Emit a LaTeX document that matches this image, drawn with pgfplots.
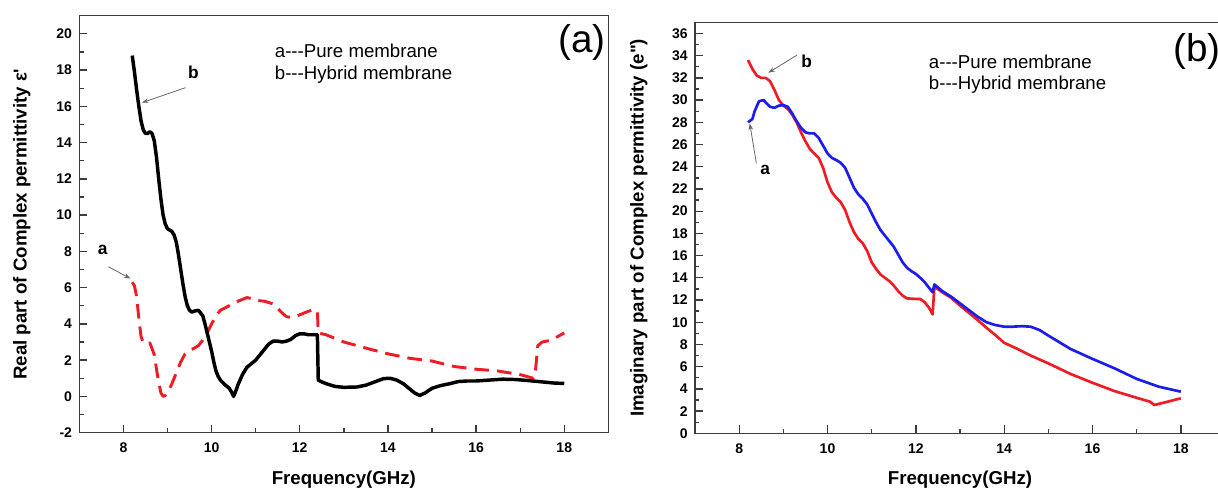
\documentclass[border=0pt]{standalone}
\usepackage{pgfplots}
\pgfplotsset{compat=1.18}
\usepackage{fontspec}
\setmainfont{Liberation Sans}
\newfontfamily\nomap{Liberation Sans}
\usetikzlibrary{arrows.meta}
\definecolor{cred}{RGB}{238,28,36}
\definecolor{cblue}{RGB}{28,28,235}
\definecolor{frame}{RGB}{60,60,60}

\pgfplotsset{
  myax/.style={
    scale only axis, anchor=south west,
    xmin=7, xmax=19, xtick={8,10,...,18}, minor x tick num=1,
    tick align=inside, xtick pos=lower, ytick pos=left,
    major tick length=6pt, minor tick length=3.2pt,
    axis line style={frame, line width=1.1pt},
    tick style={frame, line width=1pt},
    ticklabel style={font=\bfseries\fontsize{10.5}{12}\selectfont},
    /pgf/number format/assume math mode=true,
    xticklabel shift=4pt, yticklabel shift=2pt,
    label style={font=\bfseries\fontsize{14}{16}\selectfont},
    xlabel style={at={(axis description cs:0.5,-0.113)}, anchor=center},
    clip=false,
  },
}
\tikzset{
  ann/.style={font=\bfseries\fontsize{13}{15}\selectfont},
  leg/.style={font=\fontsize{14}{16}\selectfont, anchor=west, inner sep=0pt},
  pan/.style={font=\fontsize{29}{32}\selectfont, anchor=west, inner sep=0pt},
  arr/.style={-{Stealth[length=5pt,width=3.5pt]}, black!60, line width=0.6pt},
}

\begin{document}
\begin{tikzpicture}
\useasboundingbox (0,0) rectangle (913.5pt,369pt);
% ---------------- panel (a)
\begin{axis}[myax, at={(59.5pt,44.5pt)}, width=396.75pt, height=312.75pt,
  ymin=-2, ymax=21, ytick={-2,0,...,20}, minor y tick num=1,
  ylabel={Real part of Complex permittivity {\nomap ε'}},
  ylabel style={at={(axis description cs:-0.109,0.5)}, anchor=center},
  xlabel={Frequency(GHz)}]
\addplot[cred, line width=2.2pt, dash pattern=on 11pt off 6pt, line join=round] coordinates {
(8.2,6.3)(8.25,6.1)(8.3,5.5)(8.35,4.3)(8.4,3.3)(8.45,2.95)(8.5,2.9)(8.6,2.95)(8.7,2.3)(8.75,1.5)(8.8,0.8)(8.85,0.2)(8.9,0.0)(8.95,0.05)(9.0,0.2)(9.1,0.7)(9.2,1.3)(9.3,1.9)(9.4,2.35)(9.5,2.55)(9.6,2.65)(9.7,2.8)(9.8,3.1)(9.9,3.5)(10.0,4.0)(10.1,4.45)(10.2,4.75)(10.4,5.0)(10.6,5.25)(10.8,5.45)(10.9,5.4)(11.0,5.3)(11.2,5.25)(11.4,5.1)(11.5,4.85)(11.6,4.6)(11.7,4.4)(11.8,4.35)(11.9,4.4)(12.0,4.5)(12.2,4.7)(12.35,4.8)(12.4,4.7)(12.42,3.5)(12.6,3.4)(12.8,3.2)(13.0,3.0)(13.3,2.8)(13.6,2.6)(14.0,2.35)(14.5,2.1)(15.0,1.95)(15.5,1.65)(16.0,1.5)(16.5,1.4)(17.0,1.2)(17.3,1.0)(17.35,1.5)(17.4,2.8)(17.5,3.0)(17.7,3.1)(18.0,3.5)
};
\addplot[black, line width=2.6pt, line join=round] coordinates {
(8.2,18.8)(8.25,17.9)(8.3,16.9)(8.35,16.0)(8.4,15.2)(8.45,14.7)(8.5,14.5)(8.55,14.5)(8.6,14.6)(8.65,14.5)(8.7,14.1)(8.75,13.2)(8.8,12.0)(8.85,10.9)(8.9,10.0)(8.95,9.5)(9.0,9.25)(9.1,9.1)(9.15,8.9)(9.2,8.5)(9.25,7.8)(9.3,7.0)(9.35,6.2)(9.4,5.5)(9.45,5.0)(9.5,4.75)(9.55,4.65)(9.6,4.7)(9.7,4.75)(9.75,4.6)(9.8,4.45)(9.85,4.0)(9.9,3.5)(9.95,3.0)(10.0,2.5)(10.05,1.9)(10.1,1.4)(10.15,1.1)(10.2,0.9)(10.3,0.65)(10.4,0.45)(10.45,0.25)(10.5,0.0)(10.55,0.3)(10.6,0.65)(10.7,1.2)(10.8,1.6)(10.9,1.8)(11.0,2.0)(11.1,2.3)(11.2,2.6)(11.3,2.9)(11.4,3.05)(11.5,3.05)(11.6,3.0)(11.7,3.05)(11.8,3.15)(11.9,3.35)(12.0,3.45)(12.1,3.45)(12.2,3.4)(12.3,3.4)(12.4,3.4)(12.42,0.9)(12.5,0.8)(12.6,0.7)(12.8,0.55)(13.0,0.5)(13.3,0.52)(13.5,0.62)(13.7,0.8)(13.9,0.98)(14.05,1.0)(14.2,0.9)(14.35,0.7)(14.5,0.4)(14.6,0.2)(14.72,0.05)(14.85,0.2)(15.0,0.45)(15.2,0.6)(15.4,0.7)(15.6,0.82)(15.8,0.85)(16.0,0.85)(16.3,0.9)(16.6,0.95)(16.9,0.93)(17.2,0.87)(17.5,0.8)(17.8,0.73)(18.0,0.72)
};
\node[leg] at (axis cs:11.43,19.08) {a{-}{-}{-}Pure membrane};
\node[leg] at (axis cs:11.43,17.76) {b{-}{-}{-}Hybrid membrane};
\node[pan] at (axis cs:17.86,19.53) {(a)};
\node[ann] at (axis cs:9.59,17.89) {b};
\draw[arr] (axis cs:9.41,17.03) -- (axis cs:8.42,16.2);
\node[ann] at (axis cs:7.53,8.07) {a};
\draw[arr] (axis cs:7.66,7.15) -- (axis cs:8.16,6.5);
\end{axis}
% ---------------- panel (b)
\begin{axis}[myax, at={(521.25pt,44.0pt)}, width=397.5pt, height=308.25pt,
  ymin=0, ymax=37, ytick={0,2,...,36}, minor y tick num=1,
  ylabel={Imaginary part of Complex permittivity {\nomap\bfseries (e")}},
  ylabel style={at={(axis description cs:-0.106,0.5)}, anchor=center},
  xlabel={Frequency(GHz)}]
\addplot[cred, line width=2pt, line join=round] coordinates {
(8.2,33.6)(8.3,32.8)(8.4,32.2)(8.5,32.0)(8.6,32.0)(8.7,31.7)(8.8,30.9)(8.9,30.0)(9.0,29.5)(9.1,29.2)(9.2,28.7)(9.3,28.0)(9.4,27.1)(9.5,26.3)(9.6,25.6)(9.7,25.2)(9.8,24.8)(9.9,23.9)(10.0,22.6)(10.1,21.7)(10.2,21.2)(10.3,20.8)(10.4,20.1)(10.5,19.0)(10.6,18.1)(10.7,17.5)(10.8,17.1)(10.9,16.4)(11.0,15.4)(11.1,14.8)(11.2,14.3)(11.3,14.0)(11.4,13.7)(11.5,13.3)(11.6,12.8)(11.7,12.4)(11.8,12.15)(12.0,12.1)(12.1,12.1)(12.2,11.8)(12.3,11.3)(12.38,10.7)(12.42,13.2)(12.6,12.7)(12.8,12.2)(13.0,11.5)(13.2,10.85)(13.4,10.2)(13.6,9.5)(13.8,8.85)(14.0,8.15)(14.3,7.6)(14.6,7.0)(15.0,6.3)(15.5,5.35)(16.0,4.55)(16.5,3.8)(17.0,3.2)(17.3,2.85)(17.4,2.55)(17.6,2.75)(17.8,2.95)(18.0,3.15)
};
\addplot[cblue, line width=2pt, line join=round] coordinates {
(8.2,28.0)(8.3,28.3)(8.35,29.0)(8.45,29.9)(8.55,30.0)(8.6,29.8)(8.7,29.4)(8.8,29.3)(8.9,29.5)(9.0,29.55)(9.1,29.4)(9.2,28.8)(9.3,28.1)(9.4,27.5)(9.5,27.1)(9.6,27.0)(9.7,27.0)(9.8,26.6)(9.9,25.9)(10.0,25.2)(10.1,24.8)(10.2,24.6)(10.3,24.35)(10.4,23.9)(10.5,23.0)(10.6,22.1)(10.7,21.5)(10.8,21.1)(10.9,20.6)(11.0,19.8)(11.1,19.0)(11.2,18.3)(11.3,17.8)(11.4,17.3)(11.5,16.8)(11.6,16.1)(11.7,15.4)(11.8,14.9)(11.9,14.6)(12.0,14.35)(12.1,14.0)(12.2,13.6)(12.3,13.1)(12.38,12.7)(12.42,13.4)(12.6,12.8)(12.8,12.3)(13.0,11.7)(13.2,11.1)(13.4,10.5)(13.6,10.0)(13.8,9.75)(14.0,9.6)(14.2,9.6)(14.4,9.65)(14.6,9.6)(14.8,9.3)(15.0,8.8)(15.5,7.6)(16.0,6.7)(16.5,5.85)(17.0,4.9)(17.5,4.2)(18.0,3.75)
};
\node[leg] at (axis cs:12.29,33.45) {a{-}{-}{-}Pure membrane};
\node[leg] at (axis cs:12.29,31.35) {b{-}{-}{-}Hybrid membrane};
\node[pan] at (axis cs:17.82,34.4) {(b)};
\node[ann] at (axis cs:9.53,33.45) {b};
\draw[arr] (axis cs:9.31,34.05) -- (axis cs:8.66,32.46);
\node[ann] at (axis cs:8.59,23.7) {a};
\draw[arr] (axis cs:8.39,24.3) -- (axis cs:8.24,27.9);
\end{axis}
\end{tikzpicture}
\end{document}
